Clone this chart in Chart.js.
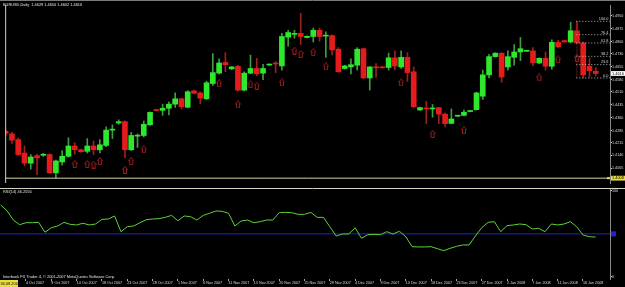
<!DOCTYPE html>
<html><head><meta charset="utf-8">
<script src="https://cdn.jsdelivr.net/npm/chart.js@4.4.0/dist/chart.umd.min.js"></script>
<style>
html,body{margin:0;padding:0;background:#000;overflow:hidden}
#w{position:relative;width:625px;height:287px;background:#000}
#c1{position:absolute;left:0;top:0}
#c2{position:absolute;left:0;top:188px}
</style></head><body>
<div id="w"><canvas id="c1" width="625" height="188"></canvas><canvas id="c2" width="625" height="99"></canvas></div>
<script>
// ---------- DATA ----------
const symbolTitle = "EURUSD,Daily  1.4629 1.4650 1.4602 1.4616";
const rsiTitle = "RSI(14) 46.2556";
const copyright = "Interbank FX Trader 4, \u00A9 2001-2007 MetaQuotes Software Corp.";
const barDates = ["30 Sep 2007","1 Oct 2007","2 Oct 2007","3 Oct 2007","4 Oct 2007","5 Oct 2007","7 Oct 2007","8 Oct 2007","9 Oct 2007","10 Oct 2007","11 Oct 2007","12 Oct 2007","14 Oct 2007","15 Oct 2007","16 Oct 2007","17 Oct 2007","18 Oct 2007","19 Oct 2007","21 Oct 2007","22 Oct 2007","23 Oct 2007","24 Oct 2007","25 Oct 2007","26 Oct 2007","28 Oct 2007","29 Oct 2007","30 Oct 2007","31 Oct 2007","1 Nov 2007","2 Nov 2007","4 Nov 2007","5 Nov 2007","6 Nov 2007","7 Nov 2007","8 Nov 2007","9 Nov 2007","11 Nov 2007","12 Nov 2007","13 Nov 2007","14 Nov 2007","15 Nov 2007","16 Nov 2007","18 Nov 2007","19 Nov 2007","20 Nov 2007","21 Nov 2007","22 Nov 2007","23 Nov 2007","25 Nov 2007","26 Nov 2007","27 Nov 2007","28 Nov 2007","29 Nov 2007","30 Nov 2007","2 Dec 2007","3 Dec 2007","4 Dec 2007","5 Dec 2007","6 Dec 2007","7 Dec 2007","9 Dec 2007","10 Dec 2007","11 Dec 2007","12 Dec 2007","13 Dec 2007","14 Dec 2007","16 Dec 2007","17 Dec 2007","18 Dec 2007","19 Dec 2007","20 Dec 2007","21 Dec 2007","23 Dec 2007","24 Dec 2007","25 Dec 2007","26 Dec 2007","27 Dec 2007","28 Dec 2007","30 Dec 2007","31 Dec 2007","2 Jan 2008","3 Jan 2008","4 Jan 2008","6 Jan 2008","7 Jan 2008","8 Jan 2008","9 Jan 2008","10 Jan 2008","11 Jan 2008","13 Jan 2008","14 Jan 2008","15 Jan 2008","16 Jan 2008","17 Jan 2008","18 Jan 2008"];
const dateTicks = [4,8,12,16,20,24,28,32,36,40,44,48,52,56,60,64,68,72,76,80,84,88,92];

const open = [1.4280,1.4265,1.4232,1.4154,1.4095,1.4139,1.4141,1.4145,1.4039,1.4102,
1.4135,1.4195,1.4173,1.4164,1.4195,1.4173,1.4198,1.4287,1.4328,1.4336,
1.4173,1.4252,1.4256,1.4318,1.4406,1.4402,1.4414,1.4438,1.4469,1.4420,
1.4515,1.4503,1.4469,1.4558,1.4618,1.4680,1.4643,1.4658,1.4519,1.4618,
1.4645,1.4618,1.4665,1.4674,1.4660,1.4827,1.4843,1.4849,1.4825,1.4831,
1.4867,1.4833,1.4836,1.4757,1.4645,1.4654,1.4664,1.4760,1.4590,1.4654,
1.4654,1.4651,1.4707,1.4654,1.4710,1.4626,1.4404,1.4414,1.4410,1.4418,
1.4380,1.4326,1.4368,1.4373,1.4395,1.4406,1.4484,1.4608,1.4714,1.4734,
1.4654,1.4710,1.4741,1.4745,1.4747,1.4677,1.4704,1.4658,1.4797,1.4807,
1.4799,1.4864,1.4793,1.4658,1.4629];
const high = [1.4291,1.4275,1.4242,1.4195,1.4145,1.4147,1.4152,1.4150,1.4113,1.4168,
1.4243,1.4214,1.4177,1.4238,1.4224,1.4232,1.4306,1.4318,1.4347,1.4341,
1.4274,1.4265,1.4340,1.4394,1.4409,1.4438,1.4451,1.4503,1.4473,1.4517,
1.4519,1.4510,1.4571,1.4732,1.4701,1.4737,1.4658,1.4664,1.4626,1.4723,
1.4704,1.4669,1.4672,1.4686,1.4849,1.4867,1.4867,1.4965,1.4835,1.4880,
1.4880,1.4858,1.4840,1.4766,1.4664,1.4701,1.4766,1.4764,1.4657,1.4673,
1.4657,1.4734,1.4747,1.4747,1.4737,1.4654,1.4421,1.4454,1.4436,1.4419,
1.4386,1.4410,1.4373,1.4404,1.4401,1.4508,1.4636,1.4728,1.4737,1.4737,
1.4747,1.4784,1.4825,1.4751,1.4766,1.4707,1.4741,1.4812,1.4808,1.4808,
1.4914,1.4919,1.4800,1.4707,1.4650];
const low = [1.4258,1.4210,1.4141,1.4080,1.4061,1.4028,1.4135,1.4035,1.4009,1.4084,
1.4130,1.4148,1.4158,1.4154,1.4145,1.4154,1.4191,1.4238,1.4321,1.4126,
1.4169,1.4186,1.4247,1.4314,1.4398,1.4373,1.4376,1.4419,1.4410,1.4417,
1.4497,1.4441,1.4464,1.4547,1.4614,1.4626,1.4639,1.4514,1.4515,1.4614,
1.4603,1.4580,1.4663,1.4621,1.4636,1.4775,1.4821,1.4784,1.4822,1.4799,
1.4803,1.4710,1.4724,1.4623,1.4641,1.4614,1.4636,1.4586,1.4520,1.4595,
1.4647,1.4636,1.4636,1.4645,1.4571,1.4419,1.4402,1.4325,1.4362,1.4325,
1.4306,1.4325,1.4365,1.4369,1.4393,1.4404,1.4465,1.4590,1.4711,1.4565,
1.4636,1.4664,1.4691,1.4743,1.4660,1.4673,1.4636,1.4641,1.4766,1.4797,
1.4793,1.4789,1.4590,1.4595,1.4602];
const close = [1.4269,1.4229,1.4145,1.4095,1.4131,1.4126,1.4147,1.4039,1.4108,1.4135,
1.4195,1.4173,1.4162,1.4195,1.4173,1.4202,1.4287,1.4293,1.4336,1.4173,
1.4256,1.4258,1.4321,1.4390,1.4401,1.4414,1.4438,1.4469,1.4423,1.4510,
1.4501,1.4473,1.4562,1.4621,1.4677,1.4667,1.4654,1.4519,1.4618,1.4645,
1.4614,1.4645,1.4669,1.4671,1.4831,1.4854,1.4849,1.4831,1.4832,1.4867,
1.4831,1.4838,1.4753,1.4626,1.4660,1.4667,1.4757,1.4590,1.4654,1.4649,
1.4649,1.4707,1.4660,1.4710,1.4621,1.4423,1.4418,1.4410,1.4414,1.4380,
1.4325,1.4352,1.4370,1.4391,1.4398,1.4503,1.4608,1.4714,1.4734,1.4595,
1.4714,1.4741,1.4760,1.4749,1.4678,1.4704,1.4658,1.4797,1.4771,1.4799,
1.4864,1.4793,1.4608,1.4632,1.4616];

const arrowIdx = [11,13,14,15,19,20,22,34,37,39,40,44,46,47,49,51,63,68,73,85,88,91];
const arrowPrice = [1.4091,1.4091,1.4087,1.4108,1.4057,1.4108,1.4176,1.4559,1.4436,1.4554,1.4545,1.4564,1.4749,1.4730,1.4740,1.4657,1.4564,1.4265,1.4287,1.4593,1.4698,1.4707];

const rsi = [83.4,76.8,66.0,60.6,62.9,62.9,63.3,51.8,57.1,59.1,
63.3,61.0,60.3,62.3,60.3,61.4,66.8,67.2,70.7,52.5,
58.3,59.1,62.9,66.4,67.2,67.6,69.1,71.4,65.2,70.7,
69.9,66.0,71.4,73.8,76.5,76.1,73.8,59.1,64.9,66.0,
62.9,64.1,66.0,66.0,74.5,74.9,74.5,72.6,72.6,74.9,
69.1,69.1,58.3,47.5,49.8,49.8,57.1,44.8,49.0,49.4,
49.0,52.5,49.8,53.0,46.7,35.1,34.8,34.8,35.1,32.8,
30.5,33.2,35.5,37.1,37.1,47.5,57.1,63.3,64.1,52.5,
59.5,60.3,61.4,60.6,55.6,56.4,52.5,61.4,60.3,61.4,
64.1,58.3,48.7,46.7,46.26];
const rsiLevel = 50;
const rsiTicks = [100, 0];

const priceTicks = [1.4950,1.4875,1.4800,1.4730,1.4655,1.4580,1.4510,1.4435,1.4360,1.4285,1.4215,1.4140,1.4065];
const hLinePrice = 1.4008;
const vLineIdx = 0;
const vLineDate = "30.09.2007";
const fibHigh = 1.4919, fibLow = 1.4590, fibIdx = 91;
const fibLevels = [0, 23.6, 38.2, 61.8, 76.4, 100];

// ---------- RENDER ----------
const FONT = "'Liberation Sans', Arial, sans-serif";
const xMin = -0.107, xMax = 96.267;
const yMin = 1.39800, yMax = 1.50138;
const bullBody = '#2ee82e', bearBody = '#e61c1c';
const bullWick = '#3f9c3f', bearWick = '#9c2020';
const isBull = k => close[k] >= open[k];

function arrowImg(){
  const c=document.createElement('canvas'); c.width=6; c.height=8;
  const g=c.getContext('2d'); g.strokeStyle='#a31c1c'; g.lineWidth=1;
  g.beginPath(); g.moveTo(3,0.5); g.lineTo(5.5,3.5); g.lineTo(4.5,3.5); g.lineTo(4.5,7.5);
  g.lineTo(1.5,7.5); g.lineTo(1.5,3.5); g.lineTo(0.5,3.5); g.closePath(); g.stroke();
  return c;
}

const wickData = open.map((o,k)=>({x:k, y:[low[k], high[k]]}));
const bodyData = open.map((o,k)=>({x:k, y:[Math.min(o,close[k]), Math.max(o,close[k])]}));
const lineDs = (data, color, dash) => ({type:'line', data, borderColor:color, borderWidth:1, borderDash:dash||[], pointRadius:0, fill:false, tension:0, order:0});

const fibDatasets = fibLevels.map(l => lineDs([{x:fibIdx-0.1, y:fibLow+(fibHigh-fibLow)*l/100},{x:xMax, y:fibLow+(fibHigh-fibLow)*l/100}], '#b8b8b8', [1,2]));

const yAxisCommon = {
  position:'right',
  afterFit(s){ s.width=15; s.paddingTop=0; s.paddingBottom=0; },
  grid:{drawOnChartArea:false, drawTicks:true, tickLength:2, color:'#cfcfcf'},
  border:{display:true, color:'#8a8a8a'},
};

const overlay1 = {
  id:'overlay1',
  afterDraw(chart){
    const {ctx, chartArea:a, scales:{y}} = chart;
    ctx.save();
    ctx.strokeStyle='#7a7a7a'; ctx.lineWidth=1;
    ctx.beginPath(); ctx.moveTo(0,0.5); ctx.lineTo(625,0.5); ctx.stroke();
    ctx.font = `3.9px ${FONT}`; ctx.fillStyle='#e6e6e6'; ctx.textBaseline='middle'; ctx.textAlign='left';
    ctx.fillText(symbolTitle, 3, 4.5);
    // fib labels
    ctx.textAlign='right'; ctx.fillStyle='#d0d0d0';
    fibLevels.forEach(l=>{
      const py = y.getPixelForValue(fibLow+(fibHigh-fibLow)*l/100);
      ctx.fillText(l.toFixed(1), a.right-1.5, py-2.2);
    });
    // current price box
    ctx.textAlign='left';
    const pc = y.getPixelForValue(close[close.length-1]);
    ctx.fillStyle='#ffffff'; ctx.fillRect(611, pc-2.4, 14, 4.8);
    ctx.fillStyle='#000'; ctx.fillText(close[close.length-1].toFixed(4), 612, pc+0.1);
    // horizontal line box
    const ph = y.getPixelForValue(hLinePrice);
    ctx.fillStyle='#e8de3c'; ctx.fillRect(611, ph-2.4, 14, 4.8); ctx.fillRect(607,ph-1,3,2);
    ctx.fillStyle='#000'; ctx.fillText(hLinePrice.toFixed(4), 612, ph+0.1);
    ctx.restore();
  }
};

new Chart(document.getElementById('c1'), {
  type:'bar',
  data:{datasets:[
    lineDs([{x:xMin,y:hLinePrice},{x:xMax,y:hLinePrice}], '#d8d4aa'),
    lineDs([{x:vLineIdx,y:yMin},{x:vLineIdx,y:yMax}], '#d8d4aa'),
    ...fibDatasets,
    lineDs([{x:fibIdx,y:fibHigh},{x:fibIdx,y:fibLow}], '#b52020', [1,1]),
    {type:'scatter', data: arrowIdx.map((k,j)=>({x:k, y:arrowPrice[j]})), pointStyle: arrowImg(), pointRadius:4, order:0},
    {type:'bar', data: bodyData, backgroundColor: bodyData.map((d,k)=>isBull(k)?bullBody:bearBody), barThickness:5, grouped:false, minBarLength:1, order:1},
    {type:'bar', data: wickData, backgroundColor: wickData.map((d,k)=>isBull(k)?bullWick:bearWick), barThickness:1, grouped:false, order:2}
  ]},
  options:{
    responsive:false, animation:false, events:[],
    layout:{padding:{top:2,left:0,right:0,bottom:0}},
    plugins:{legend:{display:false}, tooltip:{enabled:false}},
    scales:{
      x:{type:'linear', min:xMin, max:xMax, offset:false, display:false, grid:{offset:false}},
      y:Object.assign({}, yAxisCommon, {
        type:'linear', min:yMin, max:yMax,
        afterBuildTicks(s){ s.ticks = priceTicks.map(v=>({value:v})); },
        ticks:{font:{family:FONT,size:3.7}, color:'#dadada', padding:0, callback:v=>Number(v).toFixed(4)}
      })
    }
  },
  plugins:[overlay1]
});

const overlay2 = {
  id:'overlay2',
  afterDraw(chart){
    const {ctx, chartArea:a, scales:{y}} = chart;
    ctx.save();
    ctx.strokeStyle='#d4d2c2'; ctx.lineWidth=1;
    ctx.beginPath(); ctx.moveTo(0,0.5); ctx.lineTo(625,0.5); ctx.stroke();
    ctx.font = `3.9px ${FONT}`; ctx.fillStyle='#e0e0e0'; ctx.textBaseline='middle'; ctx.textAlign='left';
    ctx.fillText(rsiTitle, 3, 4.2);
    ctx.fillText(copyright, 3, 88.7);
    const yb = y.getPixelForValue(rsiLevel);
    ctx.fillStyle='#2222d8'; ctx.fillRect(611, yb-2.5, 5, 5);
    ctx.fillStyle='#e8de3c'; ctx.fillRect(0, 92, 18, 7);
    ctx.beginPath(); ctx.rect(0,92,18,7); ctx.clip();
    ctx.fillStyle='#000'; ctx.fillText(vLineDate, 0.5, 95.5);
    ctx.restore();
  }
};

new Chart(document.getElementById('c2'), {
  type:'line',
  data:{datasets:[
    {data: rsi.map((v,k)=>({x:k,y:v})), borderColor:'#5cd23a', borderWidth:1, pointRadius:0, tension:0, fill:false, order:0},
    {data: [{x:xMin,y:rsiLevel},{x:xMax,y:rsiLevel}], borderColor:'#2424c4', borderWidth:1, pointRadius:0, fill:false, order:1}
  ]},
  options:{
    responsive:false, animation:false, events:[],
    layout:{padding:{top:1,left:0,right:0,bottom:0}},
    plugins:{legend:{display:false}, tooltip:{enabled:false}},
    scales:{
      x:{type:'linear', min:xMin, max:xMax, offset:false, position:'bottom',
        afterBuildTicks(s){ s.ticks = dateTicks.map(v=>({value:v})); },
        afterFit(s){ s.height=8; s.paddingLeft=0; s.paddingRight=0; },
        ticks:{autoSkip:false, maxRotation:0, minRotation:0, align:'start', padding:0, font:{family:FONT,size:3.7}, color:'#dadada', callback:v=>barDates[v]},
        grid:{drawOnChartArea:false, drawTicks:true, tickLength:2, color:'#a8a8a8'},
        border:{display:false}
      },
      y:Object.assign({}, yAxisCommon, {
        type:'linear', min:-2.32, max:101.97,
        afterBuildTicks(s){ s.ticks = rsiTicks.map(v=>({value:v})); },
        ticks:{font:{family:FONT,size:3.7}, color:'#dadada', padding:0, callback:v=>String(v)}
      })
    }
  },
  plugins:[overlay2]
});
</script>
</body></html>
